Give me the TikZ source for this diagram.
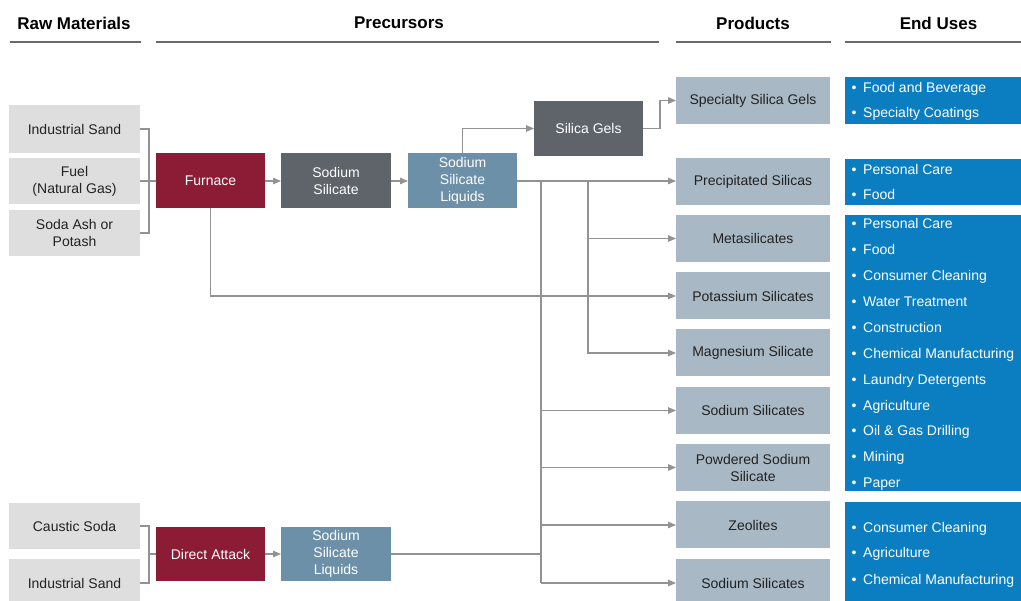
\documentclass[tikz,border=0pt]{standalone}
\usepackage{fontspec}
\setmainfont{Liberation Sans}
\usetikzlibrary{arrows.meta}
\definecolor{rawgray}{HTML}{DEDEDE}
\definecolor{prodgray}{HTML}{A9B8C5}
\definecolor{eublue}{HTML}{0B7DC1}
\definecolor{furnred}{HTML}{8C1C35}
\definecolor{darkgray}{HTML}{5E6469}
\definecolor{sslblue}{HTML}{6D90A9}
\definecolor{linegray}{HTML}{939393}
\definecolor{headline}{HTML}{6A6A6A}
\definecolor{txtdark}{HTML}{222222}
\tikzset{
  box/.style={inner sep=0pt, outer sep=0pt, align=center, font=\fontsize{14}{17}\selectfont},
  rawbox/.style={box, fill=rawgray, text=txtdark, minimum width=131pt},
  procbox/.style={box, text=white, minimum width=109pt, minimum height=55pt},
  prodbox/.style={box, fill=prodgray, text=txtdark, minimum width=154pt, minimum height=47pt},
  eubox/.style={inner sep=0pt, outer sep=0pt, fill=eublue, minimum width=180pt},
  item/.style={inner sep=0pt, anchor=base west, text=white, font=\fontsize{14}{17}\selectfont},
  bul/.style={inner sep=0pt, anchor=base, text=white, font=\fontsize{14}{17}\selectfont},
  head/.style={inner sep=0pt, font=\fontsize{17}{20}\selectfont\bfseries, text=black},
  hline/.style={draw=headline, line width=1.5pt},
  conn/.style={draw=linegray, line width=1.1pt},
  arr/.style={conn, -{Triangle[length=8pt,width=6.5pt]}}
}
\begin{document}
\begin{tikzpicture}[x=1pt,y=-1pt]
\useasboundingbox (0,0) rectangle (1021,601);
\clip (0,0) rectangle (1021,601);
\fill[white] (0,0) rectangle (1021,601);

% headers
\node[head] (hraw) at (74,23) {Raw Materials};
\node[head] (hpre) at (399,23) {Precursors};
\node[head] (hprod) at (753,23) {Products};
\node[head] (heu) at (938.5,23) {End Uses};
\draw[hline] (10,42) -- (141,42);
\draw[hline] (156,42) -- (659,42);
\draw[hline] (676,42) -- (831,42);
\draw[hline] (845,42) -- (1021,42);

% raw materials
\node[rawbox, minimum height=48pt] (is1) at (74.5,129) {Industrial Sand};
\node[rawbox, minimum height=46pt] (fuel) at (74.5,181) {Fuel\\(Natural Gas)};
\node[rawbox, minimum height=46pt] (soda) at (74.5,233) {Soda Ash or\\Potash};
\node[rawbox, minimum height=46pt] (caustic) at (74.5,526) {Caustic Soda};
\node[rawbox, minimum height=48pt] (is2) at (74.5,583) {Industrial Sand};

% precursors
\node[procbox, fill=furnred] (furn) at (210.5,181) {Furnace};
\node[procbox, fill=darkgray, minimum width=110pt] (sodsil) at (336,181) {Sodium\\Silicate};
\node[procbox, fill=sslblue] (ssl1) at (462.5,181) {Sodium\\Silicate\\Liquids};
\node[procbox, fill=darkgray] (sg) at (588.5,128.5) {Silica Gels};
\node[procbox, fill=furnred, minimum height=54pt] (da) at (210.5,554) {Direct Attack};
\node[procbox, fill=sslblue, minimum width=110pt, minimum height=54pt] (ssl2) at (336,554) {Sodium\\Silicate\\Liquids};

% products
\node[prodbox] (ssg) at (753,100.5) {Specialty Silica Gels};
\node[prodbox] (ps) at (753,181.5) {Precipitated Silicas};
\node[prodbox] (ms) at (753,238.5) {Metasilicates};
\node[prodbox] (ks) at (753,296) {Potassium Silicates};
\node[prodbox] (mg) at (753,353) {Magnesium Silicate};
\node[prodbox] (ns1) at (753,410.5) {Sodium Silicates};
\node[prodbox] (pns) at (753,467.5) {Powdered Sodium\\Silicate};
\node[prodbox] (zeo) at (753,525) {Zeolites};
\node[prodbox] (ns2) at (753,583) {Sodium Silicates};

% end uses
\node[eubox, anchor=north west, minimum height=47pt] (eu1) at (845,77) {};
\node[eubox, anchor=north west, minimum height=46pt] (eu2) at (845,159) {};
\node[eubox, anchor=north west, minimum height=276pt] (eu3) at (845,215) {};
\node[eubox, anchor=north west, minimum height=110pt] (eu4) at (845,502) {};
\foreach \t/\y [count=\i] in {Food and Beverage/88, Specialty Coatings/113,
  Personal Care/170, Food/195,
  Personal Care/224, Food/250, Consumer Cleaning/276, Water Treatment/302,
  Construction/328, Chemical Manufacturing/354, Laundry Detergents/380,
  Agriculture/406, Oil \& Gas Drilling/431, Mining/457, Paper/483,
  Consumer Cleaning/528, Agriculture/553, Chemical Manufacturing/579} {
  \node[bul] (b\i) at (854,\y+5) {\textbullet};
  \node[item] (it\i) at (863,\y+5) {\t};
}

% connectors: raw -> furnace
\coordinate (bt) at (149,181);
\draw[conn] (is1.east) -| (bt) |- (soda.east);
\draw[conn] (fuel.east) -- (furn.west);
\draw[arr] (furn) -- (sodsil);
\draw[arr] (sodsil) -- (ssl1);
\draw[arr] (ssl1.north) |- (sg.west);
\coordinate (sgr) at (660,128.5);
\draw[arr] (sg.east) -- (sgr) |- (ssg.west);
\draw[arr] (ssl1.east) -- (ssl1.east -| ps.west);
\draw[arr] (furn.south) |- (ks.west);

% trunk lines
\coordinate (v1t) at (541,181);
\coordinate (v1b) at (541,583);
\coordinate (v2t) at (588,181);
\draw[conn] (v1t) -- (v1b);
\draw[arr] (v1t |- ns1.west) -- (ns1.west);
\draw[arr] (v1t |- pns.west) -- (pns.west);
\draw[arr] (v1t |- zeo.west) -- (zeo.west);
\draw[arr] (v1b) -- (ns2.west);
\draw[arr] (v2t) |- (mg.west);
\draw[arr] (v2t |- ms.west) -- (ms.west);

% direct attack
\coordinate (bb) at (149,554);
\draw[conn] (caustic.east) -| (bb) |- (is2.east);
\draw[conn] (bb) -- (da.west);
\draw[arr] (da) -- (ssl2);
\draw[conn] (ssl2.east) -- (ssl2.east -| v1t);
\end{tikzpicture}
\end{document}
